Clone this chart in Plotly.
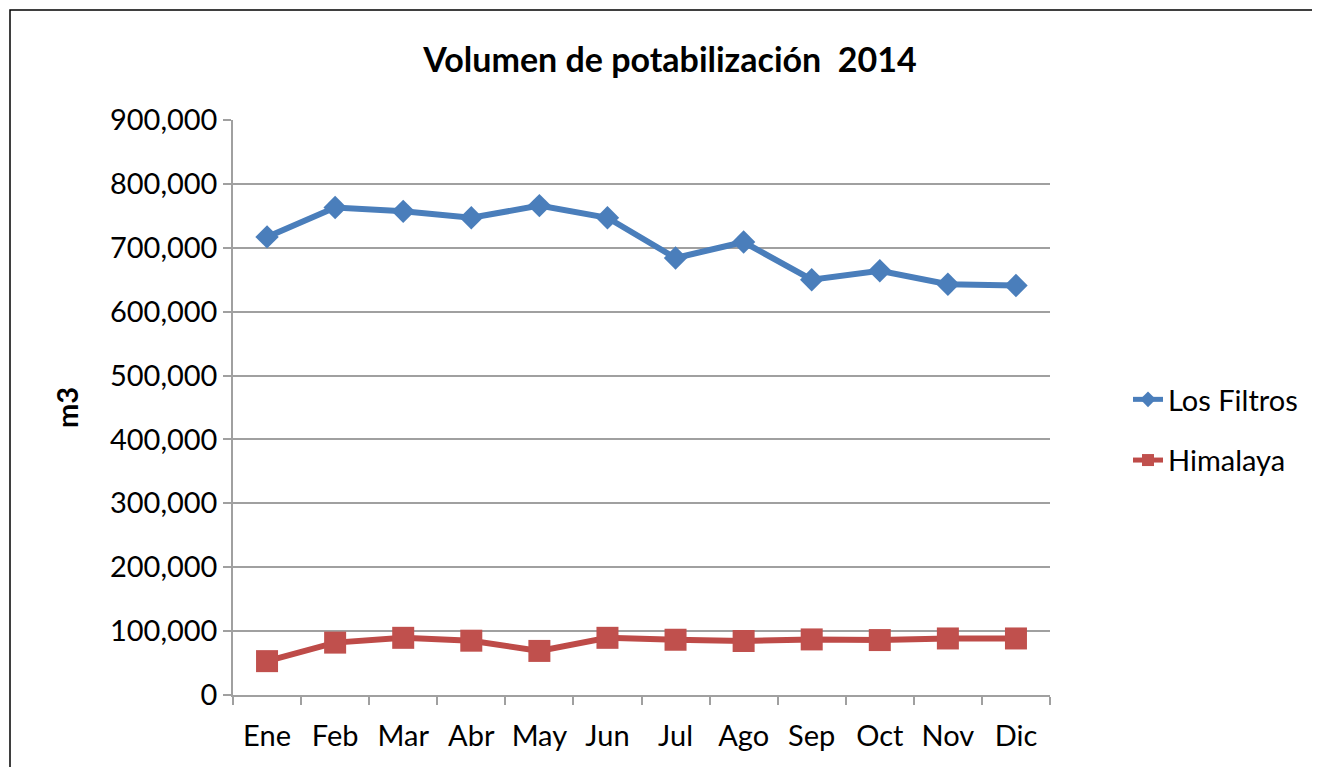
import plotly.graph_objects as go

months = ["Ene", "Feb", "Mar", "Abr", "May", "Jun", "Jul", "Ago", "Sep", "Oct", "Nov", "Dic"]
los_filtros = [717000, 763000, 757000, 747000, 766000, 747000, 684000, 709000, 650000, 664000, 643000, 641000]
himalaya = [53000, 82000, 89500, 85000, 69000, 89500, 86500, 84500, 87000, 86000, 88500, 88500]
y_ticks = [0, 100000, 200000, 300000, 400000, 500000, 600000, 700000, 800000, 900000]

FONT = "Lato"
OFF = 8  # page body margin

fig = go.Figure()
fig.add_trace(go.Scatter(
    x=months, y=los_filtros, name="Los Filtros", mode="lines+markers", legendgroup="a",
    line=dict(color="#4A7EBB", width=6),
    marker=dict(symbol="diamond", size=18, color="#4A7EBB"),
))
fig.add_trace(go.Scatter(
    x=months, y=himalaya, name="Himalaya", mode="lines+markers", legendgroup="b",
    line=dict(color="#BE4B48", width=6),
    marker=dict(symbol="square", size=22, color="#C0504D"),
))

W, H = 1320 - OFF, 767 - OFF
# plot area in screen pixels
L, R, T, B = 233, 1050, 120, 695
pw, ph = R - L, B - T

def px(xs):
    return (xs - L) / pw

def py(ys):
    return (B - ys) / ph

fig.update_layout(
    width=W, height=H,
    margin=dict(l=L - OFF, r=W - (R - OFF), t=T - OFF, b=H - (B - OFF)),
    paper_bgcolor="white", plot_bgcolor="white",
    font=dict(family=FONT, size=29, color="black"),
    title=dict(text="<b>Volumen de potabilización\u00a0 2014</b>", x=(670 - OFF) / W, xanchor="center",
               y=1 - (60 - OFF) / H, yanchor="middle", font=dict(size=34, family=FONT)),
    showlegend=True,
    legend=dict(x=px(1128), y=py(430), xanchor="left", yanchor="middle",
                font=dict(size=29, family=FONT), tracegroupgap=20, traceorder="grouped",
                itemsizing="constant", bgcolor="rgba(0,0,0,0)"),
    xaxis=dict(
        showgrid=False, showline=True, linecolor="#A0A0A0", linewidth=1.5,
        ticks="outside", tickson="boundaries", ticklen=8, tickcolor="#A0A0A0", tickwidth=1.5,
        tickfont=dict(size=29, family=FONT), range=[-0.5, 11.5], ticklabelstandoff=14,
    ),
    yaxis=dict(
        range=[0, 900000], tickvals=y_ticks, tickformat=",d",
        showgrid=True, gridcolor="#A0A0A0", gridwidth=1.5,
        showline=True, linecolor="#A0A0A0", linewidth=1.5,
        ticks="outside", ticklen=8, tickcolor="#A0A0A0", tickwidth=1.5,
        tickfont=dict(size=29, family=FONT), zeroline=False,
        title=dict(text="<b>m3</b>", font=dict(size=29, family=FONT), standoff=23),
    ),
    shapes=[dict(type="rect", xref="paper", yref="paper",
                 x0=px(10), x1=px(1340), y0=py(790), y1=py(10),
                 line=dict(color="black", width=1.5), fillcolor="rgba(0,0,0,0)", layer="below")],
)

fig.write_html("out.html")
